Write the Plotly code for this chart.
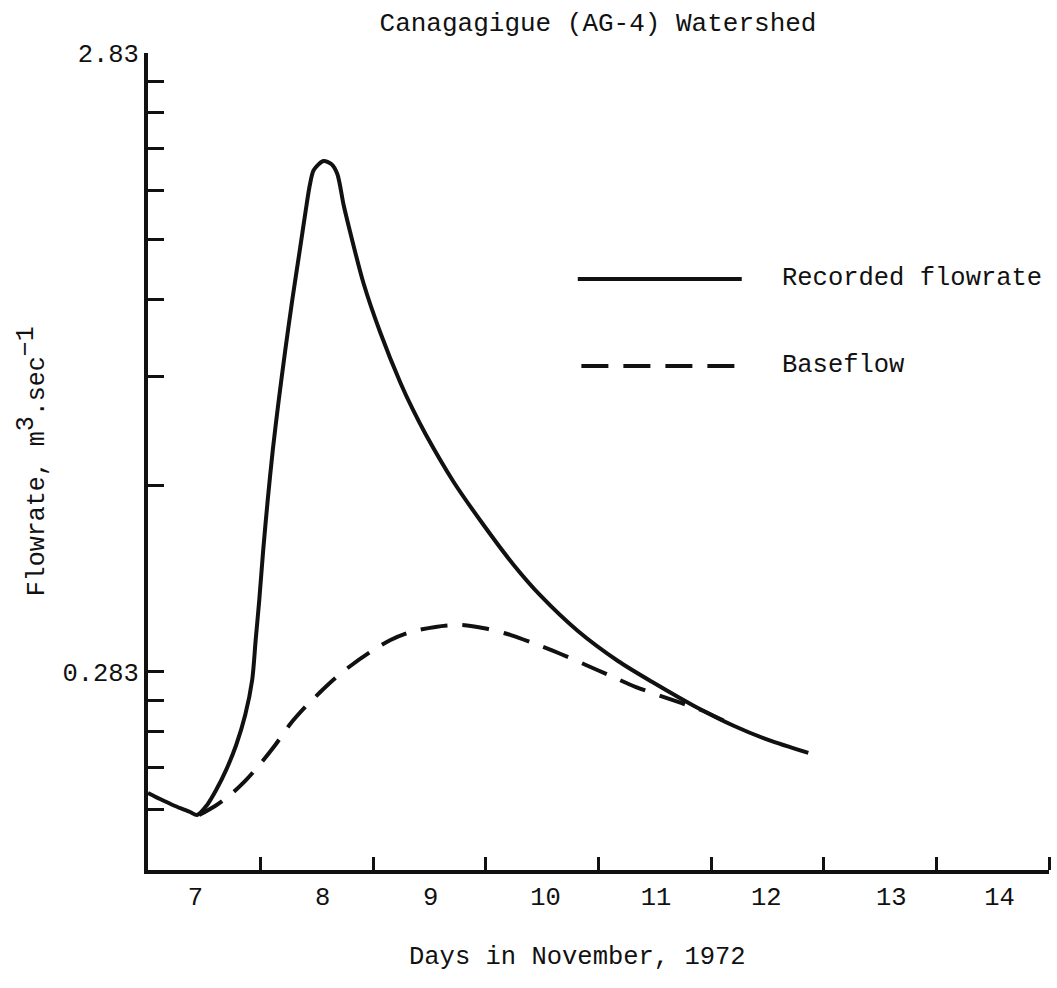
import plotly.graph_objects as go

# ---- data (days in November 1972, flow in m^3/s) ----
rec_day = [7.000, 7.107, 7.240, 7.374, 7.436, 7.525, 7.605, 7.694, 7.783, 7.863,
           7.925, 7.956, 7.988, 8.023, 8.063, 8.108, 8.161, 8.219, 8.281, 8.348,
           8.401, 8.437, 8.472, 8.557, 8.628, 8.681, 8.737, 8.797, 8.913, 9.064,
           9.242, 9.349, 9.464, 9.714, 9.954, 10.247, 10.488, 10.817, 11.173, 11.493,
           11.849, 12.205, 12.507, 12.863]
rec_flow = [0.1804, 0.1764, 0.1719, 0.1681, 0.1662, 0.1726, 0.1824, 0.1966, 0.2157, 0.2411,
            0.2747, 0.3188, 0.3699, 0.4455, 0.5366, 0.6463, 0.7784, 0.9375, 1.1292, 1.3600,
            1.5782, 1.7320, 1.8314, 1.8937, 1.8727, 1.8043, 1.6078, 1.4488, 1.2029, 0.9987,
            0.8292, 0.7528, 0.6859, 0.5738, 0.4963, 0.4214, 0.3755, 0.3296, 0.2948, 0.2716,
            0.2494, 0.2315, 0.2198, 0.2094]

base_day = [7.454, 7.596, 7.730, 7.863, 7.996, 8.130, 8.263, 8.397, 8.530, 8.664,
            8.797, 8.975, 9.153, 9.331, 9.553, 9.776, 9.998, 10.221, 10.443, 10.665,
            10.888, 11.110, 11.333, 11.555, 11.733, 11.911, 12.205]
base_flow = [0.1662, 0.1719, 0.1791, 0.1887, 0.2010, 0.2157, 0.2332, 0.2485, 0.2627, 0.2767,
             0.2894, 0.3049, 0.3188, 0.3284, 0.3346, 0.3371, 0.3327, 0.3247, 0.3140, 0.3026,
             0.2905, 0.2788, 0.2676, 0.2588, 0.2522, 0.2457, 0.2315]

day_labels = ["7", "8", "9", "10", "11", "12", "13", "14"]
day_label_pos = [7.42, 8.55, 9.51, 10.53, 11.51, 12.49, 13.60, 14.56]
day_boundaries = [8, 9, 10, 11, 12, 13, 14, 15]

y_base = 0.283
y_label_factors = [1, 10]
y_label_text = ["0.283", "2.83"]
y_minor_factors = [0.6, 0.7, 0.8, 0.9, 2, 3, 4, 5, 6, 7, 8, 9]

series_names = ["Recorded flowrate", "Baseflow"]

FONT = "Liberation Mono, Courier New, monospace"
INK = "#111111"
FS = 25.5
LW = 4
DASH = "27px,15px"

fig = go.Figure()
fig.add_trace(go.Scatter(x=rec_day, y=rec_flow, mode="lines", name=series_names[0],
                         line=dict(color=INK, width=LW, shape="spline", smoothing=0.8),
                         showlegend=False))
fig.add_trace(go.Scatter(x=base_day, y=base_flow, mode="lines", name=series_names[1],
                         line=dict(color=INK, width=LW, dash=DASH, shape="spline", smoothing=0.8),
                         showlegend=False))

# legend drawn as long sample lines + text (as in the original)
leg_x0, leg_x1, leg_tx = 0.477, 0.659, 0.701
leg_y = [0.7234, 0.6169]
fig.add_shape(type="line", xref="paper", yref="paper", x0=leg_x0, x1=leg_x1,
              y0=leg_y[0], y1=leg_y[0], line=dict(color=INK, width=LW))
fig.add_shape(type="line", xref="paper", yref="paper", x0=leg_x0 + 0.004, x1=leg_x1,
              y0=leg_y[1], y1=leg_y[1], line=dict(color=INK, width=LW, dash=DASH))
for name, yy in zip(series_names, leg_y):
    fig.add_annotation(x=leg_tx, y=yy, xref="paper", yref="paper", text=name,
                       showarrow=False, xanchor="left", yanchor="middle",
                       font=dict(family=FONT, size=FS, color=INK))

# axis titles placed as in the original typescript
fig.add_annotation(x=-0.129, y=0.5, xref="paper", yref="paper", textangle=-90,
                   text="Flowrate, m<sup><span style='font-size:25px'>3</span></sup>"
                        ".sec<sup><span style='font-size:25px'>\u22121</span></sup>",
                   showarrow=False, xanchor="center", yanchor="middle",
                   font=dict(family=FONT, size=25, color=INK))
fig.add_annotation(x=(577 - 148) / 901, y=-(957 - 870) / 817, xref="paper", yref="paper",
                   text="Days in November, 1972", showarrow=False,
                   xanchor="center", yanchor="middle",
                   font=dict(family=FONT, size=FS, color=INK))

fig.update_layout(
    width=1057, height=988, autosize=False,
    margin=dict(l=148, r=8, t=53, b=118),
    paper_bgcolor="white", plot_bgcolor="white",
    font=dict(family=FONT, size=FS, color=INK),
    title=dict(text="Canagagigue (AG-4) Watershed", x=598 / 1057, xanchor="center",
               y=1 - 22 / 988, yanchor="middle", font=dict(family=FONT, size=26, color=INK)),
    xaxis=dict(range=[7, 15], showgrid=False, zeroline=False,
               showline=True, linecolor=INK, linewidth=LW,
               tickvals=day_label_pos, ticktext=day_labels, ticks="",
               ticklabelstandoff=0,
               tickfont=dict(family=FONT, size=FS, color=INK),
               minor=dict(tickvals=day_boundaries, ticks="inside", ticklen=13,
                          tickwidth=3, tickcolor=INK, showgrid=False)),
    yaxis=dict(type="log", range=[-0.8681, 0.4518], showgrid=False, zeroline=False,
               showline=True, linecolor=INK, linewidth=LW,
               tickvals=[y_base * k for k in y_label_factors], ticktext=y_label_text,
               ticks="inside", ticklen=16, tickwidth=3, tickcolor=INK,
               tickfont=dict(family=FONT, size=FS, color=INK),
               minor=dict(tickvals=[y_base * k for k in y_minor_factors], ticks="inside",
                          ticklen=16, tickwidth=3, tickcolor=INK, showgrid=False)),
)

fig.write_html("out.html", config={"displayModeBar": False},
               post_script="document.body.style.margin='0px';")
